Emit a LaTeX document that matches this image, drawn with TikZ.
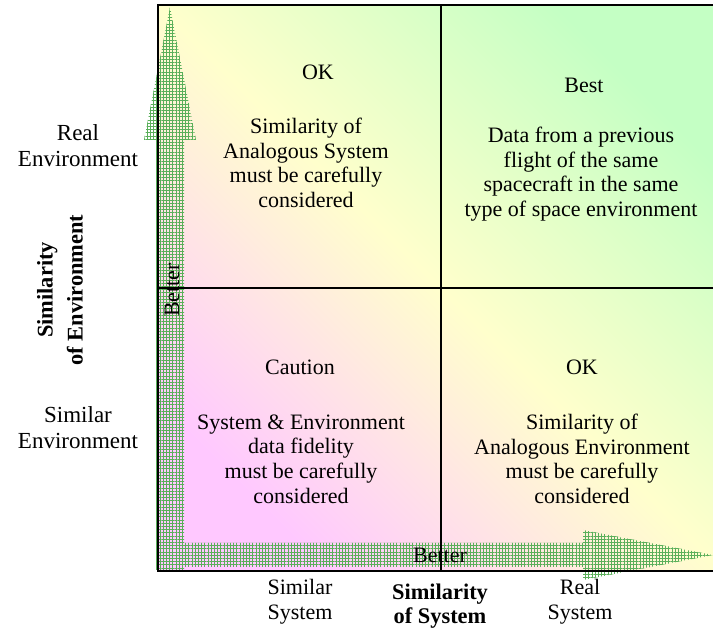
\documentclass[tikz,border=0pt]{standalone}
\usepackage{fontspec}
\setmainfont{Liberation Serif}
\usetikzlibrary{patterns.meta}
\definecolor{simpink}{RGB}{255,200,255}
\definecolor{simyellow}{RGB}{255,255,204}
\definecolor{simgreen}{RGB}{196,255,196}
\definecolor{chkgreen}{RGB}{90,175,90}
\tikzset{
  lbl/.style={align=center,inner sep=0pt,font=\fontsize{11}{12.3}\selectfont},
  axlbl/.style={align=center,inner sep=0pt,font=\fontsize{11.2}{12.3}\selectfont\bfseries},
  chk/.style={pattern={Lines[distance=1.6pt,angle=#1,line width=0.45pt]},pattern color=chkgreen},
}
\begin{document}
\begin{tikzpicture}[x=0.5pt,y=0.5pt]
  \useasboundingbox (0,0) rectangle (713,632);
  \begin{scope}
    \clip (0,0) rectangle (713,632);
    % background
    \shade[top color=simgreen,bottom color=simpink,middle color=simyellow,shading angle=-45]
      (158,61) rectangle (724,627);

    % arrows
    \foreach \a in {0,90} {
      \fill[chk=\a] (156,62) -- (156,492) -- (144,492) -- (170,625) -- (196,492)
        -- (184,492) -- (184,62) -- cycle;
      \fill[chk=\a] (158,65) -- (583,65) -- (583,52) -- (713,77) -- (583,102)
        -- (583,89) -- (158,89) -- cycle;
    }

    % quadrants
    \draw[line width=1pt] (158,61) rectangle (724,627);
    \draw[line width=1pt] (441,61) -- (441,627);
    \draw[line width=1pt] (158,344) -- (724,344);
  \end{scope}

  \node[lbl,rotate=90] (betterY) at (172,342) {Better};
  \node[lbl] (betterX) at (440,77) {Better};

  % upper left
  \node[lbl] (okEnv) at (318,560) {OK};
  \node[lbl] (okEnvTxt) at (306,469) {Similarity of\\Analogous System\\must be carefully\\considered};
  % upper right
  \node[lbl] (best) at (584,547) {Best};
  \node[lbl] (bestTxt) at (581,458) {Data from a previous\\flight of the same\\spacecraft in the same\\type of space environment};
  % lower left
  \node[lbl] (caution) at (300,265) {Caution};
  \node[lbl] (cautionTxt) at (301,173) {System \& Environment\\data fidelity\\must be carefully\\considered};
  % lower right
  \node[lbl] (okSys) at (582,265) {OK};
  \node[lbl] (okSysTxt) at (582,173) {Similarity of\\Analogous Environment\\must be carefully\\considered};

  % y labels
  \node[lbl,font=\fontsize{11.5}{13}\selectfont] (realEnv) at (78,486) {Real\\Environment};
  \node[lbl,font=\fontsize{11.5}{13}\selectfont] (simEnv) at (78,204) {Similar\\Environment};
  \node[axlbl,rotate=90,font=\fontsize{11.2}{15}\selectfont\bfseries] (envAxis) at (60,342) {Similarity\\of Environment};
  % x labels
  \node[lbl] (simSys) at (300,30) {Similar\\System};
  \node[axlbl] (sysAxis) at (440,26) {Similarity\\of System};
  \node[lbl] (realSys) at (580,30) {Real\\System};
\end{tikzpicture}
\end{document}
